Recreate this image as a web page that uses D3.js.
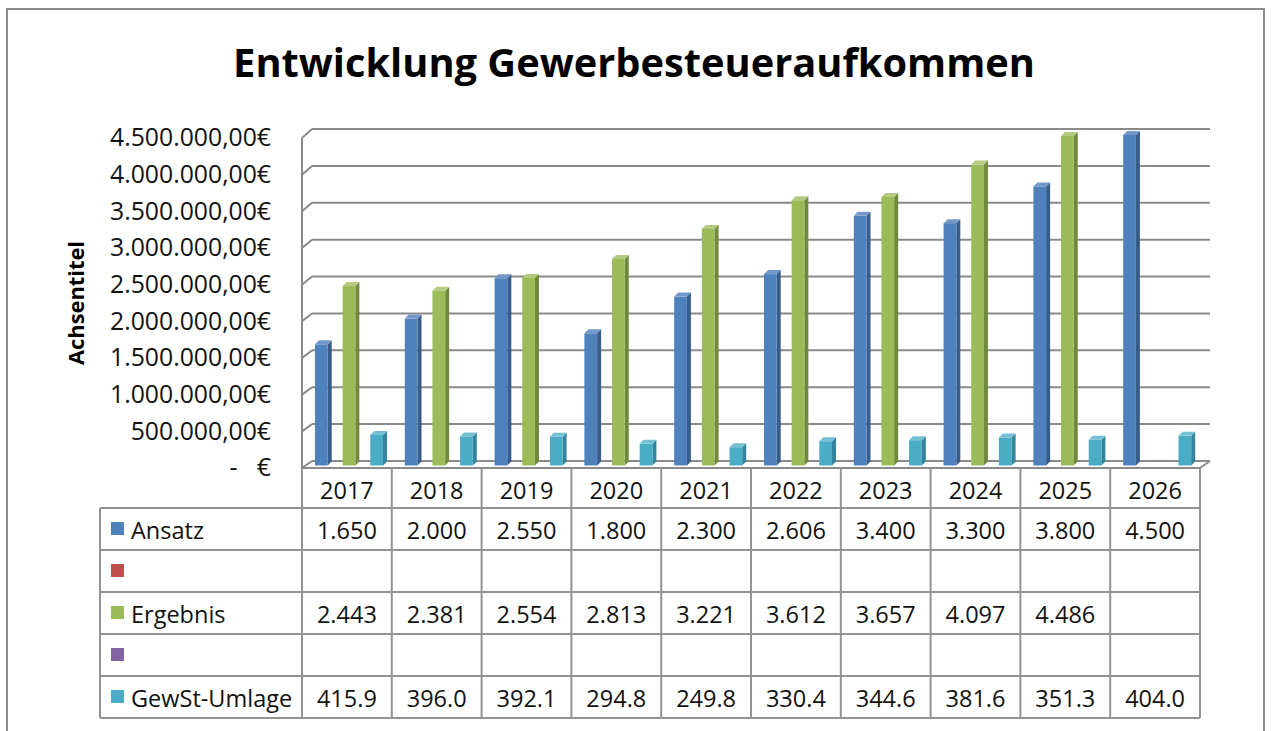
<!DOCTYPE html>
<html><head><meta charset="utf-8">
<script src="https://cdn.jsdelivr.net/npm/d3@7"></script>
<style>
html,body{margin:0;padding:0;background:#fff;}
svg{display:block;font-family:"Open Sans",sans-serif;}
</style></head>
<body>
<svg id="chart" width="1271" height="731"></svg>
<script>
// ---------- data ----------
const categories = ["2017","2018","2019","2020","2021","2022","2023","2024","2025","2026"];
const ansatz   = [1650, 2000, 2550, 1800, 2300, 2606, 3400, 3300, 3800, 4500];      // T€
const leer1    = [null,null,null,null,null,null,null,null,null,null];
const ergebnis = [2443, 2381, 2554, 2813, 3221, 3612, 3657, 4097, 4486, null];     // T€
const leer2    = [null,null,null,null,null,null,null,null,null,null];
const gewst    = [415.9, 396.0, 392.1, 294.8, 249.8, 330.4, 344.6, 381.6, 351.3, 404.0]; // T€
const seriesNames = ["Ansatz", "", "Ergebnis", "", "GewSt-Umlage"];
const seriesKeys  = ["s0","s1","s2","s3","s4"];
const seriesFmt   = ["int","int","int","int","dec"];
const yTicks = [0, 500000, 1000000, 1500000, 2000000, 2500000, 3000000, 3500000, 4000000, 4500000];
const titleText = "Entwicklung Gewerbesteueraufkommen";
const axisTitle = "Achsentitel";

const colors = {
  s0: {front:"#4F81BD", side:"#385D8A", top:"#7397C9"},
  s1: {front:"#C0504D", side:"#8C3836", top:"#CE7977"},
  s2: {front:"#9BBB59", side:"#71893F", top:"#B2CB7E"},
  s3: {front:"#8064A2", side:"#5C4776", top:"#9C86B7"},
  s4: {front:"#4BACC6", side:"#31859C", top:"#74C0D4"}
};
const seriesVals = [ansatz, leer1, ergebnis, leer2, gewst];

// ---------- layout ----------
const svg = d3.select("#chart");
const W = 1271, H = 731;
const plotL = 302, plotR = 1200;
const dX = 10;
const tableL = 100, tableBottom = 718, headerTop = 468, headerBottom = 508;
const gridColor = "#8a8a8a", tableColor = "#939393";
const tableFont = 23.5;

svg.append("rect").attr("x",0).attr("y",0).attr("width",W).attr("height",H).attr("fill","#fff");
svg.append("rect").attr("x",7).attr("y",9).attr("width",1257).attr("height",740)
  .attr("fill","none").attr("stroke","#8c8c8c").attr("stroke-width",2);

// scales
const yMax = 4500000;
const yFront = d3.scaleLinear().domain([0,yMax]).range([468,138]);
const yBack  = d3.scaleLinear().domain([0,yMax]).range([461,129]);
const yBar   = d3.scaleLinear().domain([0,yMax]).range([465.5,135]);
const x0 = d3.scaleBand().domain(categories).range([plotL, plotR]).padding(0);
const x1 = d3.scaleBand().domain(seriesKeys).range([13, 81]).paddingInner(0.08);
const rowY = d3.scaleBand().domain(seriesKeys).range([headerBottom, tableBottom]);

const de = d3.formatLocale({decimal:",", thousands:".", grouping:[3], currency:["","€"]});
const fmtCur = de.format("$,.2f");
const fmtInt = de.format(",d");
const fmtDec = d3.format(".1f");

// ---------- title ----------
const title = svg.append("text").attr("x",634).attr("y",77).attr("text-anchor","middle")
  .attr("font-weight","700").attr("font-size",40).attr("fill","#000").text(titleText);
{ const w = title.node().getComputedTextLength(); title.attr("font-size", 40*802/w); }

// ---------- walls / gridlines ----------
const grid = svg.append("g");
grid.selectAll("line.back").data(yTicks).join("line").attr("class","back")
  .attr("x1",plotL+dX).attr("x2",plotR+dX)
  .attr("y1",d=>yBack(d)).attr("y2",d=>yBack(d))
  .attr("stroke",gridColor).attr("stroke-width",2);
grid.selectAll("line.diag").data(yTicks).join("line").attr("class","diag")
  .attr("x1",plotL).attr("x2",plotL+dX)
  .attr("y1",d=>yFront(d)).attr("y2",d=>yBack(d))
  .attr("stroke",gridColor).attr("stroke-width",2);
grid.append("line").attr("x1",plotL).attr("x2",plotL)
  .attr("y1",yFront(yMax)).attr("y2",yFront(0))
  .attr("stroke",gridColor).attr("stroke-width",2);
grid.append("line").attr("x1",plotR).attr("x2",plotR+dX)
  .attr("y1",yFront(0)).attr("y2",yBack(0))
  .attr("stroke",gridColor).attr("stroke-width",2);

// ---------- y axis labels ----------
const yAxis = d3.axisLeft(yFront).tickValues(yTicks).tickSize(0).tickPadding(31)
  .tickFormat(d => d === 0 ? "-   €" : fmtCur(d));
const ga = svg.append("g").attr("transform",`translate(${plotL},0)`).call(yAxis);
ga.select(".domain").remove();
const yLbl = ga.selectAll("text").attr("font-size",21.5).attr("fill","#111")
  .attr("font-family","'Open Sans',sans-serif").style("white-space","pre");
{ const w = d3.max(yLbl.nodes(), n=>n.getComputedTextLength()); yLbl.attr("font-size", 21.5*161/w); }

const at = svg.append("text").attr("transform","translate(84,303) rotate(-90)")
  .attr("text-anchor","middle").attr("font-weight","700").attr("font-size",19).attr("fill","#000").text(axisTitle);
{ const w = at.node().getComputedTextLength(); at.attr("font-size", 19*124/w); }

// ---------- bars ----------
const bdx = 4, bdy = 4;
const barData = [];
seriesKeys.forEach((k,si)=>{
  categories.forEach((c,ci)=>{
    const v = seriesVals[si][ci];
    if (v !== null && v !== undefined) barData.push({k, c, v: v*1000});
  });
});
const bars = svg.append("g").selectAll("g").data(barData).join("g");
bars.each(function(d){
  const g = d3.select(this);
  const x = x0(d.c) + x1(d.k), w = x1.bandwidth();
  const yt = yBar(d.v), yb = yBar(0);
  g.append("polygon").attr("points",
     [[x+w,yt],[x+w+bdx,yt-bdy],[x+w+bdx,yb-bdy],[x+w,yb]].map(p=>p.join(",")).join(" "))
   .attr("fill",colors[d.k].side);
  g.append("rect").attr("x",x).attr("y",yt).attr("width",w).attr("height",yb-yt)
   .attr("fill",colors[d.k].front);
  g.append("polygon").attr("points",
     [[x,yt],[x+bdx,yt-bdy],[x+w+bdx,yt-bdy],[x+w,yt]].map(p=>p.join(",")).join(" "))
   .attr("fill",colors[d.k].top);
});

svg.append("line").attr("x1",plotL).attr("x2",plotR).attr("y1",headerTop).attr("y2",headerTop)
  .attr("stroke",gridColor).attr("stroke-width",2);

// ---------- data table ----------
const tbl = svg.append("g");
const colEdges = categories.map(c=>x0(c)).concat([plotR]);
tbl.selectAll("line.v").data(colEdges).join("line").attr("class","v")
  .attr("x1",d=>d).attr("x2",d=>d).attr("y1",headerTop).attr("y2",tableBottom)
  .attr("stroke",tableColor).attr("stroke-width",2);
tbl.append("line").attr("x1",tableL).attr("x2",tableL).attr("y1",headerBottom).attr("y2",tableBottom)
  .attr("stroke",tableColor).attr("stroke-width",2);
const hLines = [headerBottom].concat(seriesKeys.map(k=>rowY(k)+rowY.bandwidth()));
tbl.selectAll("line.h").data(hLines).join("line").attr("class","h")
  .attr("x1",tableL).attr("x2",plotR).attr("y1",d=>d).attr("y2",d=>d)
  .attr("stroke",tableColor).attr("stroke-width",2);

tbl.selectAll("text.yr").data(categories).join("text").attr("class","yr")
  .attr("x",d=>x0(d)+x0.bandwidth()/2).attr("y",(headerTop+headerBottom)/2+2)
  .attr("text-anchor","middle").attr("dominant-baseline","central")
  .attr("font-size",tableFont).attr("fill","#111").text(d=>d);

seriesKeys.forEach((k,si)=>{
  const cy = rowY(k) + rowY.bandwidth()/2;
  tbl.append("rect").attr("x",111).attr("y",cy-7).attr("width",13).attr("height",13)
    .attr("fill",colors[k].front);
  tbl.append("text").attr("x",131).attr("y",cy+1).attr("dominant-baseline","central")
    .attr("font-size",tableFont).attr("fill","#111").text(seriesNames[si]);
  categories.forEach((c,ci)=>{
    const v = seriesVals[si][ci];
    if (v === null || v === undefined) return;
    tbl.append("text").attr("x",x0(c)+x0.bandwidth()/2).attr("y",cy+1)
      .attr("text-anchor","middle").attr("dominant-baseline","central")
      .attr("font-size",tableFont).attr("fill","#111")
      .text(seriesFmt[si]==="dec" ? fmtDec(v) : fmtInt(v));
  });
});
</script>
</body></html>
